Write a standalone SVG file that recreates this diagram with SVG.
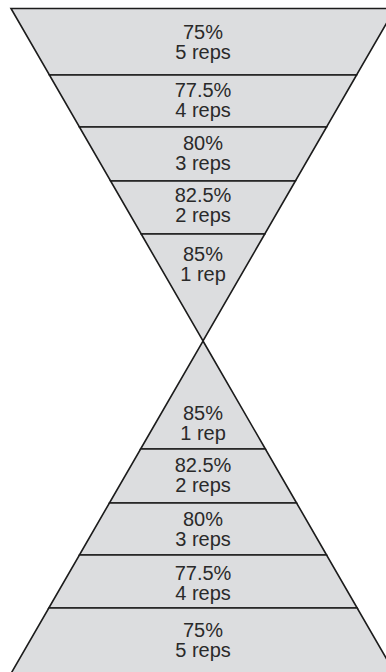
<svg xmlns="http://www.w3.org/2000/svg" width="386" height="672" viewBox="0 0 386 672">
<style>
.band{fill:#dcdddf;stroke:#1c1c1c;stroke-width:1.6;stroke-linejoin:miter}
.t{font-family:"Liberation Sans",Arial,sans-serif;font-size:20px;fill:#2a2a2a;text-anchor:middle}
</style>
<rect width="386" height="672" fill="#ffffff"/>
<g id="top-75"><polygon class="band" points="11,8.5 395,8.5 356.6,75 49.4,75"/><text class="t" x="203" y="39">75%</text><text class="t" x="203" y="59">5 reps</text></g>
<g id="top-77-5"><polygon class="band" points="49.4,75 356.6,75 326.6,127 79.4,127"/><text class="t" x="203" y="96.5">77.5%</text><text class="t" x="203" y="116.5">4 reps</text></g>
<g id="top-80"><polygon class="band" points="79.4,127 326.6,127 295.4,181 110.6,181"/><text class="t" x="203" y="150">80%</text><text class="t" x="203" y="170">3 reps</text></g>
<g id="top-82-5"><polygon class="band" points="110.6,181 295.4,181 264.8,234 141.2,234"/><text class="t" x="203" y="202">82.5%</text><text class="t" x="203" y="222">2 reps</text></g>
<g id="top-85"><polygon class="band" points="141.2,234 264.8,234 203,341"/><text class="t" x="203" y="261">85%</text><text class="t" x="203" y="281">1 rep</text></g>
<g id="bottom-85"><polygon class="band" points="203,341 265.4,449 140.6,449"/><text class="t" x="203" y="420">85%</text><text class="t" x="203" y="440">1 rep</text></g>
<g id="bottom-82-5"><polygon class="band" points="140.6,449 265.4,449 296.6,503 109.4,503"/><text class="t" x="203" y="472">82.5%</text><text class="t" x="203" y="492">2 reps</text></g>
<g id="bottom-80"><polygon class="band" points="109.4,503 296.6,503 326.6,555 79.4,555"/><text class="t" x="203" y="526">80%</text><text class="t" x="203" y="546">3 reps</text></g>
<g id="bottom-77-5"><polygon class="band" points="79.4,555 326.6,555 357.2,608 48.8,608"/><text class="t" x="203" y="579.5">77.5%</text><text class="t" x="203" y="599.5">4 reps</text></g>
<g id="bottom-75"><polygon class="band" points="48.8,608 357.2,608 395,673.5 11,673.5"/><text class="t" x="203" y="637">75%</text><text class="t" x="203" y="657">5 reps</text></g>
<g id="connectors"></g>
</svg>
